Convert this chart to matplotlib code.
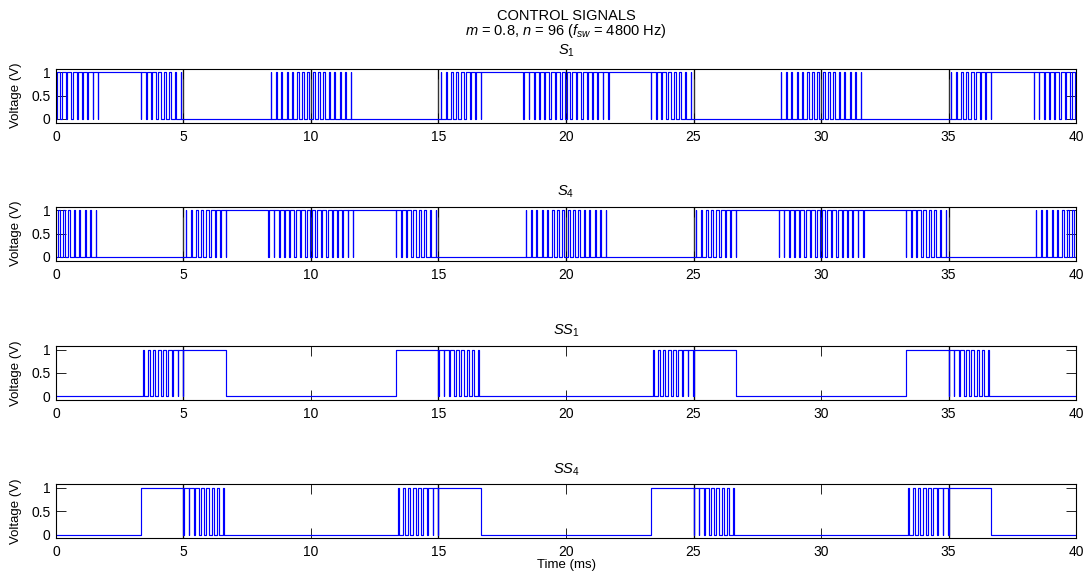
import matplotlib
matplotlib.use('Agg')
import matplotlib.pyplot as plt

plt.rcParams['font.family'] = ['Liberation Sans', 'DejaVu Sans']
plt.rcParams['mathtext.fontset'] = 'custom'
plt.rcParams['mathtext.rm'] = 'Liberation Sans'
plt.rcParams['mathtext.it'] = 'Liberation Sans:italic'
plt.rcParams['font.size'] = 10

# switching period (ms) and 30-degree sector length (ms)
t_sw = 1 / 4.8
sector_ms = 20 / 12

# duty cycles of the 8 switching periods inside a pulsed sector
duty = {
    'R':  [0.12, 0.22, 0.35, 0.45, 0.55, 0.68, 0.78, 0.90],
    'F':  [0.90, 0.78, 0.68, 0.55, 0.45, 0.35, 0.22, 0.12],
    'LU': [0.08, 0.12, 0.16, 0.20, 0.25, 0.30, 0.35, 0.40],
    'LD': [0.40, 0.35, 0.30, 0.25, 0.20, 0.16, 0.12, 0.08],
    'HU': [0.60, 0.65, 0.70, 0.75, 0.80, 0.84, 0.88, 0.92],
    'HD': [0.92, 0.88, 0.84, 0.80, 0.75, 0.70, 0.65, 0.60],
}

# state of each 30-degree sector over 0..40 ms (H = on, L = off, else pulsed)
s1_sectors = ['HU', 'H', 'F', 'L', 'L', 'LU', 'LD', 'L', 'L', 'R', 'H', 'HD',
              'HU', 'H', 'F', 'L', 'L', 'LU', 'LD', 'L', 'L', 'R', 'H', 'HD']
s4_sectors = ['LD', 'L', 'L', 'R', 'H', 'HD', 'HU', 'H', 'F', 'L', 'L', 'LU',
              'LD', 'L', 'L', 'R', 'H', 'HD', 'HU', 'H', 'F', 'L', 'L', 'LU']
ss1_sectors = ['L', 'L', 'R', 'H', 'L', 'L', 'L', 'L', 'H', 'F', 'L', 'L',
               'L', 'L', 'R', 'H', 'L', 'L', 'L', 'L', 'H', 'F', 'L', 'L']
ss4_sectors = ['L', 'L', 'H', 'F', 'L', 'L', 'L', 'L', 'R', 'H', 'L', 'L',
               'L', 'L', 'H', 'F', 'L', 'L', 'L', 'L', 'R', 'H', 'L', 'L']

titles = [r'$S_1$', r'$S_4$', r'$SS_1$', r'$SS_4$']
# dark vertical marks seen in each panel
dividers = [
    [5, 10, 15, 20, 25, 30, 35],
    [5, 10, 15, 20, 25, 30, 35],
    [5, 15, 25, 35],
    [5, 15, 25, 35],
]


def build_wave(sectors):
    t, y = [], []
    for i, code in enumerate(sectors):
        t0 = i * sector_ms
        if code in ('H', 'L'):
            level = 1.0 if code == 'H' else 0.0
            t += [t0, t0 + sector_ms]
            y += [level, level]
        else:
            for k, d in enumerate(duty[code]):
                ts = t0 + k * t_sw
                a = ts + t_sw * (1 - d) / 2
                b = ts + t_sw * (1 + d) / 2
                t += [ts, a, a, b, b, ts + t_sw]
                y += [0, 0, 1, 1, 0, 0]
    return t, y


fig = plt.figure(figsize=(10.87, 5.76), dpi=100)

bottoms = [0.787, 0.5474, 0.3056, 0.0655]
signals = [s1_sectors, s4_sectors, ss1_sectors, ss4_sectors]

for i, sectors in enumerate(signals):
    ax = fig.add_axes([0.0515, bottoms[i], 0.9384, 0.0938])
    for xd in dividers[i]:
        ax.axvline(xd, color='0.2', linewidth=1.0, zorder=1)
    t, y = build_wave(sectors)
    ax.plot(t, y, color='#0000FF', linewidth=0.85, zorder=2)
    ax.set_xlim(0, 40)
    ax.set_ylim(-0.08, 1.08)
    ax.set_xticks(range(0, 41, 5))
    ax.set_yticks([0, 0.5, 1])
    ax.set_yticklabels(['0', '0.5', '1'])
    ax.tick_params(direction='in', top=True, right=True, length=7, width=0.6,
                   labelsize=10, pad=4)
    ax.tick_params(axis='x', pad=5)
    for sp in ax.spines.values():
        sp.set_linewidth(0.8)
    ax.set_ylabel('Voltage (V)', fontsize=9.5)
    ax.yaxis.set_label_coords(-0.033, 0.5)
    ax.set_title(titles[i], fontsize=10.5, pad=10 if i == 0 else 8)
    if i == 3:
        ax.set_xlabel('Time (ms)', fontsize=9.5, labelpad=0)

fig.text(0.5207, 0.9653, 'CONTROL SIGNALS', ha='center', va='baseline', fontsize=10.5)
fig.text(0.5207, 0.9384, r'$m$ = 0.8, $n$ = 96 ($f_{sw}$ = 4800 Hz)',
         ha='center', va='baseline', fontsize=10.5)

fig.savefig('out.png', dpi=100)
plt.close(fig)
